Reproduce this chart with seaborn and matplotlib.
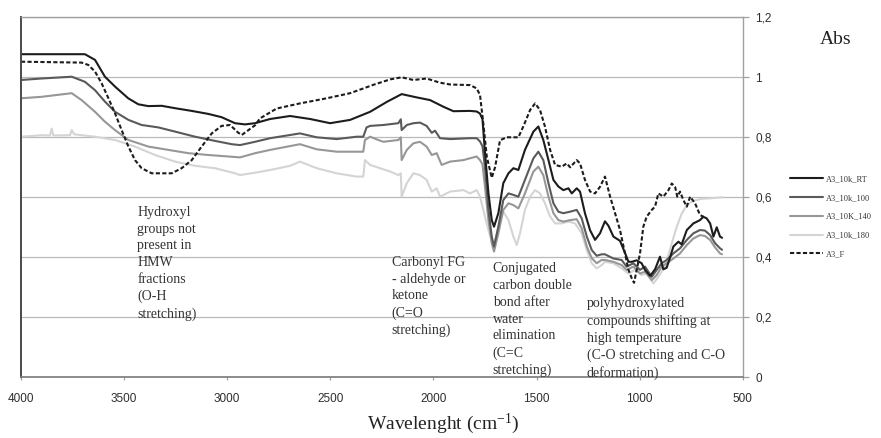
import matplotlib
matplotlib.use("Agg")
import matplotlib.pyplot as plt
from matplotlib.lines import Line2D
import pandas as pd
import seaborn as sns

# FTIR absorbance spectra of the A3 fractions (wavenumber in cm-1, absorbance)
rt_wn = [4000, 3850, 3690, 3641, 3593, 3544, 3480, 3431, 3383, 3318,
         3253, 3172, 3092, 3027, 2962, 2914, 2865, 2792, 2695, 2598,
         2501, 2404, 2307, 2226, 2154, 2081, 2016, 1952, 1903, 1822,
         1790, 1774, 1762, 1750, 1733, 1717, 1706, 1685, 1661, 1636,
         1612, 1588, 1556, 1515, 1491, 1467, 1442, 1418, 1394, 1370,
         1345, 1329, 1305, 1289, 1265, 1240, 1216, 1192, 1168, 1151,
         1127, 1095, 1071, 1054, 1038, 1014, 990, 974, 949, 925,
         901, 885, 869, 852, 836, 812, 796, 771, 755, 739,
         707, 691, 675, 658, 642, 626, 610, 600]
rt_abs = [1.077, 1.077, 1.077, 1.058, 1.002, 0.969, 0.930, 0.910, 0.904, 0.905,
          0.897, 0.888, 0.878, 0.867, 0.847, 0.843, 0.847, 0.861, 0.871, 0.861,
          0.847, 0.858, 0.885, 0.918, 0.944, 0.933, 0.924, 0.902, 0.887, 0.888,
          0.886, 0.879, 0.860, 0.750, 0.613, 0.524, 0.502, 0.547, 0.647, 0.680,
          0.697, 0.691, 0.758, 0.819, 0.836, 0.791, 0.724, 0.658, 0.636, 0.624,
          0.630, 0.613, 0.630, 0.619, 0.547, 0.490, 0.458, 0.480, 0.520, 0.505,
          0.469, 0.455, 0.415, 0.385, 0.385, 0.390, 0.380, 0.358, 0.338, 0.360,
          0.402, 0.360, 0.365, 0.400, 0.436, 0.452, 0.443, 0.491, 0.502, 0.513,
          0.524, 0.535, 0.530, 0.513, 0.469, 0.500, 0.469, 0.465]

k100_wn = [4000, 3900, 3754, 3690, 3641, 3593, 3544, 3479, 3415, 3334,
           3253, 3156, 3059, 2978, 2938, 2865, 2792, 2647, 2566, 2469,
           2372, 2340, 2324, 2307, 2243, 2170, 2158, 2154, 2129, 2097,
           2065, 2033, 2008, 1992, 1968, 1919, 1822, 1790, 1774, 1762,
           1750, 1733, 1717, 1706, 1685, 1661, 1636, 1612, 1588, 1556,
           1515, 1491, 1467, 1442, 1418, 1394, 1370, 1337, 1305, 1281,
           1256, 1232, 1208, 1184, 1168, 1127, 1087, 1063, 1030, 998,
           974, 941, 917, 893, 869, 836, 804, 771, 739, 707,
           683, 658, 634, 610, 600]
k100_abs = [0.991, 0.996, 1.002, 0.985, 0.957, 0.919, 0.885, 0.858, 0.841, 0.833,
            0.819, 0.802, 0.788, 0.777, 0.774, 0.785, 0.797, 0.813, 0.800, 0.794,
            0.802, 0.802, 0.833, 0.838, 0.841, 0.847, 0.860, 0.824, 0.841, 0.847,
            0.849, 0.838, 0.815, 0.822, 0.797, 0.794, 0.797, 0.797, 0.786, 0.770,
            0.702, 0.558, 0.469, 0.436, 0.502, 0.591, 0.613, 0.608, 0.602, 0.658,
            0.730, 0.752, 0.724, 0.647, 0.580, 0.552, 0.547, 0.552, 0.558, 0.530,
            0.469, 0.424, 0.405, 0.410, 0.410, 0.396, 0.391, 0.369, 0.380, 0.358,
            0.369, 0.335, 0.358, 0.380, 0.391, 0.413, 0.430, 0.458, 0.480, 0.491,
            0.489, 0.474, 0.447, 0.430, 0.425]

k140_wn = [4000, 3900, 3754, 3706, 3641, 3593, 3544, 3479, 3382, 3285,
           3188, 3091, 2994, 2938, 2865, 2792, 2647, 2566, 2469, 2372,
           2340, 2332, 2307, 2275, 2243, 2170, 2158, 2154, 2129, 2097,
           2065, 2033, 2008, 1984, 1960, 1919, 1855, 1790, 1774, 1762,
           1750, 1733, 1717, 1706, 1685, 1661, 1636, 1612, 1588, 1556,
           1515, 1491, 1467, 1442, 1418, 1394, 1370, 1337, 1305, 1281,
           1256, 1232, 1208, 1184, 1168, 1127, 1087, 1063, 1030, 998,
           974, 941, 917, 893, 869, 836, 804, 771, 739, 707,
           683, 658, 634, 610, 600]
k140_abs = [0.930, 0.935, 0.947, 0.924, 0.885, 0.852, 0.824, 0.791, 0.769, 0.758,
            0.747, 0.741, 0.736, 0.733, 0.747, 0.758, 0.777, 0.760, 0.752, 0.752,
            0.752, 0.791, 0.802, 0.793, 0.785, 0.791, 0.800, 0.724, 0.758, 0.780,
            0.785, 0.769, 0.741, 0.747, 0.708, 0.719, 0.724, 0.736, 0.724, 0.710,
            0.636, 0.524, 0.447, 0.419, 0.480, 0.558, 0.580, 0.574, 0.563, 0.613,
            0.686, 0.702, 0.674, 0.602, 0.547, 0.524, 0.519, 0.524, 0.527, 0.497,
            0.436, 0.397, 0.380, 0.391, 0.391, 0.385, 0.374, 0.358, 0.369, 0.346,
            0.352, 0.324, 0.341, 0.369, 0.380, 0.396, 0.413, 0.441, 0.463, 0.474,
            0.471, 0.458, 0.433, 0.413, 0.410]

k180_wn = [4000, 3900, 3860, 3851, 3843, 3762, 3754, 3742, 3706, 3641,
           3544, 3447, 3350, 3253, 3156, 3059, 2962, 2938, 2865, 2792,
           2695, 2647, 2566, 2469, 2372, 2340, 2332, 2307, 2259, 2210,
           2170, 2158, 2154, 2129, 2097, 2065, 2033, 2008, 1984, 1968,
           1919, 1855, 1822, 1790, 1774, 1750, 1733, 1717, 1706, 1685,
           1661, 1636, 1612, 1596, 1580, 1556, 1531, 1507, 1483, 1459,
           1434, 1410, 1378, 1345, 1313, 1281, 1256, 1232, 1208, 1184,
           1168, 1127, 1087, 1054, 1022, 990, 966, 933, 909, 877,
           844, 820, 796, 771, 740, 700, 650, 600]
k180_abs = [0.802, 0.807, 0.806, 0.829, 0.806, 0.807, 0.824, 0.810, 0.807, 0.802,
            0.791, 0.769, 0.741, 0.719, 0.705, 0.697, 0.680, 0.674, 0.682, 0.691,
            0.705, 0.719, 0.697, 0.680, 0.669, 0.669, 0.724, 0.708, 0.697, 0.686,
            0.674, 0.680, 0.602, 0.647, 0.680, 0.674, 0.658, 0.619, 0.630, 0.602,
            0.619, 0.624, 0.613, 0.624, 0.602, 0.536, 0.491, 0.452, 0.436, 0.502,
            0.552, 0.524, 0.469, 0.441, 0.480, 0.558, 0.602, 0.624, 0.613, 0.580,
            0.536, 0.513, 0.513, 0.519, 0.513, 0.480, 0.424, 0.380, 0.363, 0.374,
            0.385, 0.380, 0.363, 0.346, 0.358, 0.341, 0.346, 0.313, 0.335, 0.369,
            0.446, 0.502, 0.545, 0.575, 0.588, 0.595, 0.597, 0.600]

f_wn = [4000, 3706, 3673, 3641, 3609, 3576, 3544, 3512, 3479, 3447,
        3415, 3366, 3318, 3269, 3221, 3172, 3124, 3075, 3027, 2986,
        2946, 2929, 2897, 2865, 2841, 2760, 2647, 2518, 2404, 2291,
        2210, 2154, 2097, 2033, 1968, 1919, 1822, 1790, 1774, 1758,
        1741, 1717, 1701, 1677, 1645, 1588, 1564, 1531, 1507, 1483,
        1459, 1434, 1410, 1378, 1353, 1337, 1305, 1289, 1265, 1240,
        1216, 1192, 1168, 1143, 1119, 1095, 1071, 1054, 1038, 1027,
        1014, 998, 982, 966, 941, 925, 909, 885, 860, 844,
        828, 817, 804, 788, 771, 755, 731, 707, 690]
f_abs = [1.052, 1.049, 1.041, 1.019, 0.980, 0.930, 0.880, 0.824, 0.769, 0.724,
         0.697, 0.680, 0.680, 0.680, 0.697, 0.724, 0.769, 0.813, 0.838, 0.841,
         0.815, 0.808, 0.824, 0.840, 0.863, 0.896, 0.913, 0.930, 0.947, 0.975,
         0.993, 1.000, 0.991, 0.996, 0.982, 0.976, 0.974, 0.963, 0.941, 0.847,
         0.735, 0.665, 0.700, 0.790, 0.800, 0.800, 0.836, 0.891, 0.913, 0.891,
         0.836, 0.758, 0.708, 0.702, 0.713, 0.700, 0.724, 0.713, 0.658, 0.619,
         0.613, 0.635, 0.669, 0.602, 0.547, 0.491, 0.413, 0.358, 0.330, 0.315,
         0.358, 0.413, 0.502, 0.535, 0.558, 0.569, 0.613, 0.602, 0.624, 0.646,
         0.635, 0.602, 0.619, 0.591, 0.569, 0.602, 0.580, 0.541, 0.535]

sample_names = ["A3_10k_RT", "A3_10k_100", "A3_10K_140", "A3_10k_180", "A3_F"]
x_ticks = [4000, 3500, 3000, 2500, 2000, 1500, 1000, 500]
y_ticks = [0, 0.2, 0.4, 0.6, 0.8, 1.0, 1.2]
y_tick_labels = ["0", "0,2", "0,4", "0,6", "0,8", "1", "1,2"]

notes = [
    (3436, 0.572, "Hydroxyl\ngroups not\npresent in\nHMW\nfractions\n(O-H\nstretching)"),
    (2202, 0.405, "Carbonyl FG\n- aldehyde or\nketone\n(C=O\nstretching)"),
    (1712, 0.384, "Conjugated\ncarbon double\nbond after\nwater\nelimination\n(C=C\nstretching)"),
    (1256, 0.268, "polyhydroxylated\ncompounds shifting at\nhigh temperature\n(C-O stretching and C-O\ndeformation)"),
]

series = [rt_wn, k100_wn, k140_wn, k180_wn, f_wn]
values = [rt_abs, k100_abs, k140_abs, k180_abs, f_abs]
df = pd.concat(
    [pd.DataFrame({"Wavenumber": w, "Abs": a, "Sample": n})
     for n, w, a in zip(sample_names, series, values)],
    ignore_index=True,
)

sns.set_theme(style="white")
plt.rcParams["font.family"] = ["Liberation Sans", "DejaVu Sans"]
plt.rcParams["mathtext.fontset"] = "custom"
plt.rcParams["mathtext.rm"] = "Liberation Serif"
plt.rcParams["mathtext.it"] = "Liberation Serif:italic"

palette = {"A3_10k_RT": "#1c1c1c", "A3_10k_100": "#5a5a5a",
           "A3_10K_140": "#979797", "A3_10k_180": "#d4d4d4", "A3_F": "#1c1c1c"}
dashes = {"A3_10k_RT": "", "A3_10k_100": "", "A3_10K_140": "",
          "A3_10k_180": "", "A3_F": (2.0, 1.1)}
line_w = 1.5

fig = plt.figure(figsize=(8.81, 4.38), dpi=100)
ax = fig.add_axes([21 / 881, 1 - 377.3 / 438, (742.7 - 21) / 881, (377.3 - 17.3) / 438])

draw_order = ["A3_10k_180", "A3_10K_140", "A3_10k_100", "A3_10k_RT", "A3_F"]
sns.lineplot(data=df, x="Wavenumber", y="Abs", hue="Sample", style="Sample",
             hue_order=draw_order, style_order=draw_order,
             palette=palette, dashes=dashes, linewidth=line_w,
             estimator=None, sort=False, legend=False, ax=ax)

ax.set_xlim(4000, 500)
ax.set_ylim(0, 1.2)
ax.set_xticks(x_ticks)
ax.set_xticklabels([str(t) for t in x_ticks])
ax.set_yticks(y_ticks)
ax.set_yticklabels(y_tick_labels)
ax.yaxis.tick_right()
ax.set_xlabel("")
ax.set_ylabel("")
ax.set_axisbelow(True)
ax.yaxis.grid(True, color="#b9b9b9", linewidth=0.9)
ax.xaxis.grid(False)

ax.spines["left"].set_color("#4a4a4a")
ax.spines["left"].set_linewidth(1.4)
ax.spines["bottom"].set_color("#7a7a7a")
ax.spines["bottom"].set_linewidth(1.2)
for side in ("top", "right"):
    ax.spines[side].set_color("#a0a0a0")
    ax.spines[side].set_linewidth(1.0)

ax.tick_params(axis="y", which="both", right=True, left=False, direction="out",
               length=4, width=0.9, color="#a0a0a0", pad=5,
               labelsize=8.5, labelcolor="#2e2e2e")
ax.tick_params(axis="x", which="both", bottom=True, direction="out",
               length=2.5, width=0.9, color="#a0a0a0", pad=8.5,
               labelsize=8.5, labelcolor="#2e2e2e")

for wx, ay, txt in notes:
    ax.text(wx, ay, txt, ha="left", va="top", fontsize=10,
            family="Liberation Serif", color="#333333", linespacing=1.38)

fig.text(443 / 881, 1 - 424 / 438, r"Wavelenght (cm$^{-1}$)", ha="center",
         va="center", fontsize=14, family="Liberation Serif", color="#222222")
fig.text(836 / 881, 1 - 40 / 438, "Abs", ha="center", va="center",
         fontsize=14, family="Liberation Serif", color="#222222")

handles = []
for n in sample_names:
    h = Line2D([], [], color=palette[n], linewidth=line_w)
    if dashes[n]:
        h.set_dashes(dashes[n])
    handles.append(h)
fig.legend(handles, sample_names, loc="upper left",
           bbox_to_anchor=(790 / 881, 1 - 175 / 438),
           frameon=False, borderpad=0, borderaxespad=0,
           handlelength=4.0, handletextpad=0.3, labelspacing=1.3,
           prop={"family": "Liberation Serif", "size": 6},
           labelcolor="#333333")

fig.savefig("out.png", dpi=100)
